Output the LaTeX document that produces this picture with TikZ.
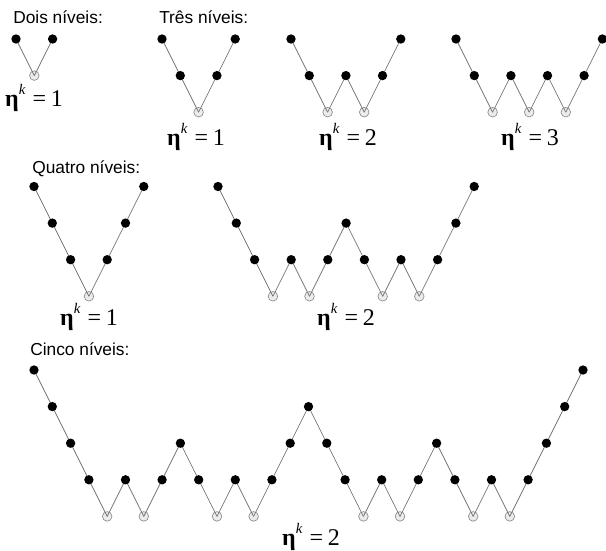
\documentclass[tikz,border=0pt]{standalone}
\usepackage{fontspec}
\setmainfont{Liberation Sans}
\newfontfamily\serifeq{Liberation Serif}
\pgfdeclarelayer{gbg}
\pgfdeclarelayer{lns}
\pgfsetlayers{gbg,lns,main}
\tikzset{
  full/.style={circle, fill=black, inner sep=0pt, minimum size=7pt},
  empty/.style={circle, fill=gray!15, draw=gray!90, line width=0.5pt, inner sep=0pt, minimum size=7.2pt},
  link/.style={draw=gray!90!black, line width=0.55pt},
  title/.style={font=\fontsize{13}{15}\selectfont, anchor=base west, inner sep=0pt},
  eqlabel/.style={font=\serifeq\fontsize{18}{20}\selectfont, anchor=base, inner sep=0pt}
}
\newcommand\etak[1]{{\bfseries η}\raisebox{0.5em}{\itshape\fontsize{11}{11}\selectfont k}\hspace{0.3em}=\hspace{0.2em}#1}
% #1 name, #2 x0, #3 ytop, #4 levels, #5 grey level
\newcommand\zigpanel[5]{%
  \foreach \l [count=\i] in {#4} {
    \pgfmathtruncatemacro\isg{(\l==#5)?1:0}
    \ifnum\isg=1
      \begin{pgfonlayer}{gbg}
        \node[empty] (#1-\i) at ({#2+(\i-1)*18.3},{#3+\l*36.6}) {};
      \end{pgfonlayer}
    \else
      \node[full] (#1-\i) at ({#2+(\i-1)*18.3},{#3+\l*36.6}) {};
    \fi
  }
  \foreach \l [count=\i] in {#4} {
    \ifnum\i>1
      \pgfmathtruncatemacro\j{\i-1}
      \begin{pgfonlayer}{lns}
        \draw[link] (#1-\j.center) -- (#1-\i.center);
      \end{pgfonlayer}
    \fi
  }
}
\begin{document}
\begin{tikzpicture}[x=0.75pt,y=-0.75pt]
\useasboundingbox (0,0) rectangle (606,550);
% titles
\node[title] (t2) at (13,23) {Dois níveis:};
\node[title] (t3) at (159,23) {Três níveis:};
\node[title] (t4) at (32,173) {Quatro níveis:};
\node[title] (t5) at (30,355) {Cinco níveis:};
% panels
\zigpanel{a}{16}{39}{0,1,0}{1}
\zigpanel{b}{162}{39}{0,1,2,1,0}{2}
\zigpanel{c}{291}{39}{0,1,2,1,2,1,0}{2}
\zigpanel{d}{456}{39}{0,1,2,1,2,1,2,1,0}{2}
\zigpanel{e}{34}{186.5}{0,1,2,3,2,1,0}{3}
\zigpanel{f}{218}{186.5}{0,1,2,3,2,3,2,1,2,3,2,3,2,1,0}{3}
\zigpanel{g}{34}{370}{0,1,2,3,4,3,4,3,2,3,4,3,4,3,2,1,2,3,4,3,4,3,2,3,4,3,4,3,2,1,0}{4}
% labels
\node[eqlabel] (la) at (34,106) {\etak{1}};
\node[eqlabel] (lb) at (196,145) {\etak{1}};
\node[eqlabel] (lc) at (348,145) {\etak{2}};
\node[eqlabel] (ld) at (530,145) {\etak{3}};
\node[eqlabel] (le) at (89,325) {\etak{1}};
\node[eqlabel] (lf) at (346,325) {\etak{2}};
\node[eqlabel] (lg) at (311,545) {\etak{2}};
\end{tikzpicture}
\end{document}
